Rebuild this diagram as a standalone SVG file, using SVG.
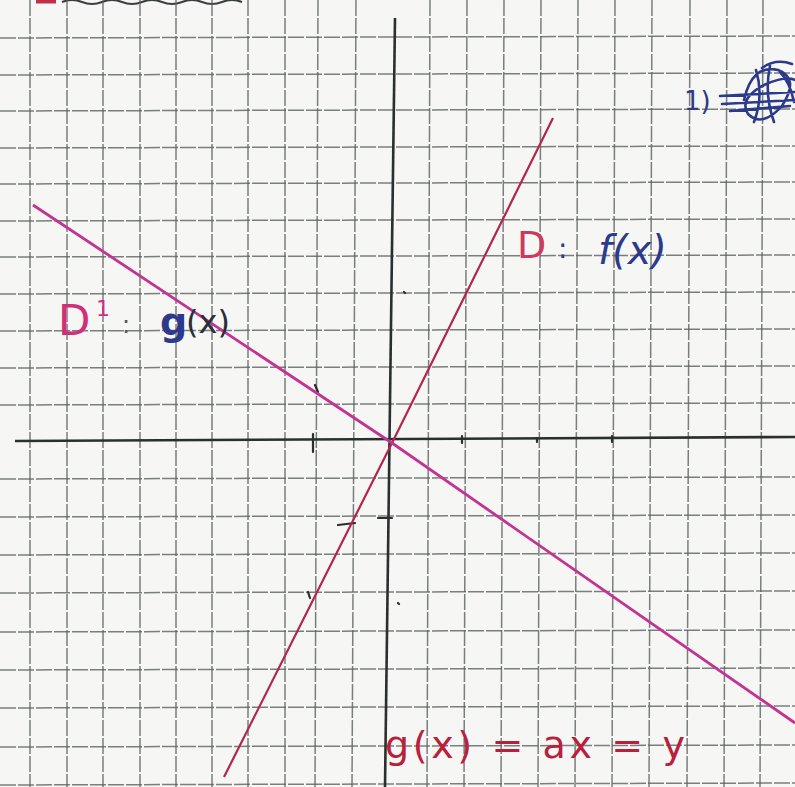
<svg xmlns="http://www.w3.org/2000/svg" width="795" height="787" viewBox="0 0 795 787">
<style>
.grid line{stroke:#5b6262;stroke-width:1.5;stroke-dasharray:16 2;opacity:0.8}
.axis{stroke:#2a2f2f;stroke-width:2.6;fill:none}
.tick{stroke:#2a2f2f;stroke-width:2.2;fill:none;stroke-linecap:round}
.hand{font-family:"DejaVu Sans","Liberation Sans",sans-serif}
.blue{fill:#2c3a8c}
.ink{stroke:#2c3a8c;fill:none;stroke-width:2.6;stroke-linecap:round}
</style>
<rect width="795" height="787" fill="#f6f6f4"/>
<g id="top-cut" fill="none">
<path d="M36 1.5 L56 1.5" stroke="#c0304a" stroke-width="4"/>
<path d="M62 2 q10 -4 20 0 t20 0 t20 0 t20 0 t20 0 t20 0 t20 0 t20 0 t20 0" stroke="#3a3f40" stroke-width="2"/>
</g>
<g id="grid" class="grid">
<line x1="30" y1="0" x2="30" y2="787"/>
<line x1="67" y1="0" x2="67" y2="787"/>
<line x1="103" y1="0" x2="103" y2="787"/>
<line x1="140" y1="0" x2="140" y2="787"/>
<line x1="176" y1="0" x2="176" y2="787"/>
<line x1="212" y1="0" x2="212" y2="787"/>
<line x1="248" y1="0" x2="248" y2="787"/>
<line x1="285" y1="0" x2="285" y2="787"/>
<line x1="318" y1="0" x2="315" y2="787"/>
<line x1="356" y1="0" x2="352" y2="787"/>
<line x1="430" y1="0" x2="427" y2="787"/>
<line x1="467" y1="0" x2="464" y2="787"/>
<line x1="504" y1="0" x2="501" y2="787"/>
<line x1="541" y1="0" x2="538" y2="787"/>
<line x1="578" y1="0" x2="575" y2="787"/>
<line x1="615" y1="0" x2="612" y2="787"/>
<line x1="652" y1="0" x2="649" y2="787"/>
<line x1="690" y1="0" x2="687" y2="787"/>
<line x1="727" y1="0" x2="724" y2="787"/>
<line x1="763" y1="0" x2="760" y2="787"/>
<line x1="0" y1="38" x2="795" y2="36"/>
<line x1="0" y1="75" x2="795" y2="73"/>
<line x1="0" y1="111" x2="795" y2="109"/>
<line x1="0" y1="148" x2="795" y2="146"/>
<line x1="0" y1="184" x2="795" y2="182"/>
<line x1="0" y1="221" x2="795" y2="219"/>
<line x1="0" y1="257" x2="795" y2="255"/>
<line x1="0" y1="294" x2="795" y2="292"/>
<line x1="0" y1="331" x2="795" y2="329"/>
<line x1="0" y1="368" x2="795" y2="366"/>
<line x1="0" y1="405" x2="795" y2="403"/>
<line x1="0" y1="479" x2="795" y2="477"/>
<line x1="0" y1="517" x2="795" y2="515"/>
<line x1="0" y1="555" x2="795" y2="553"/>
<line x1="0" y1="593" x2="795" y2="591"/>
<line x1="0" y1="632" x2="795" y2="630"/>
<line x1="0" y1="670" x2="795" y2="668"/>
<line x1="0" y1="708" x2="795" y2="706"/>
<line x1="0" y1="747" x2="795" y2="745"/>
<line x1="0" y1="785" x2="795" y2="783"/>
</g>
<g id="axes">
<line class="axis" x1="15" y1="441" x2="795" y2="437"/>
<line class="axis" x1="395" y1="18" x2="385" y2="787"/>
<path class="tick" d="M313 434 L313 452 M462 436 L462 443 M537 438 L537 442 M612 436 L612 442 M378 518 L392 518 M404 292 L405 293 M398 603 L399 604 M308 592 L310 598 M338 525 L355 523 M315 385 L318 392"/>
</g>
<g id="connectors">
<path id="line-f" d="M553 118 L392 443 L224 777" stroke="#b0284c" stroke-width="2.2" fill="none"/>
<path id="line-g" d="M33 205 L392 443 L795 723" stroke="#c23492" stroke-width="2.8" fill="none"/>
</g>
<g id="label-D">
<text class="hand" x="517" y="258" font-size="38" fill="#cc3a5c">D</text>
<text class="hand blue" x="558" y="258" font-size="28">:</text>
<text class="hand blue" x="598" y="264" font-size="40" font-style="italic">f(x)</text>
</g>
<g id="label-Dprime">
<text class="hand" x="58" y="335" font-size="42" fill="#d0307a">D</text>
<text class="hand" x="96" y="316" font-size="22" fill="#d0307a">1</text>
<text class="hand" x="122" y="333" font-size="24" fill="#555">:</text>
<text class="hand blue" x="160" y="335" font-size="38" font-weight="bold">g</text>
<text class="hand" x="186" y="333" font-size="32" fill="#2a2e3a">(x)</text>
</g>
<g id="label-eq">
<text class="hand" x="385" y="758" font-size="38" fill="#b8203c" textLength="300" lengthAdjust="spacing">g(x) = ax = y</text>
</g>
<g id="label-q1">
<text class="hand blue" x="684" y="110" font-size="26">1)</text>
<path class="ink" d="M744 100 q8 -36 34 -30 q22 8 4 36 q-20 22 -34 8 q-10 -16 18 -30 q24 -10 32 -2 M720 96 L795 92 M722 104 L795 100 M730 111 L790 106 M756 70 q8 26 -2 52 M770 66 q-6 28 4 56 M762 68 q14 -10 30 -4 M780 72 q10 10 14 30"/>
</g>
</svg>
